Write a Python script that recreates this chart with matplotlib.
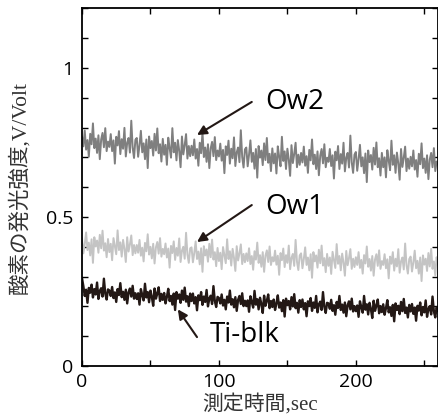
import numpy as np
import matplotlib
matplotlib.use("Agg")
import matplotlib.pyplot as plt
from matplotlib.ticker import MultipleLocator

# sampling time, sec (one point per second)
time_sec = np.arange(0, 261, 1)

# emission intensity, mV (trace by trace)
ow2_mv = [
    769, 737, 790, 726, 758, 702, 779, 744, 814, 731, 763, 715, 774, 694, 760, 782, 734, 798, 721, 753,
    735, 778, 721, 757, 679, 769, 740, 788, 711, 761, 729, 799, 703, 749, 765, 716, 823, 733, 698, 759,
    765, 702, 741, 789, 717, 747, 694, 760, 664, 770, 731, 755, 706, 779, 723, 797, 714, 744, 686, 762,
    709, 742, 675, 766, 731, 699, 798, 717, 749, 690, 758, 722, 667, 770, 710, 741, 778, 696, 738, 704,
    739, 707, 760, 696, 728, 672, 749, 714, 784, 701, 733, 685, 744, 664, 730, 752, 704, 768, 691, 723,
    703, 746, 689, 725, 647, 737, 708, 756, 679, 729, 697, 767, 671, 717, 733, 684, 791, 701, 666, 727,
    733, 670, 709, 757, 685, 715, 662, 728, 632, 738, 699, 723, 674, 747, 691, 765, 682, 712, 654, 730,
    680, 713, 646, 737, 702, 670, 769, 688, 720, 661, 729, 693, 638, 741, 681, 712, 749, 667, 709, 675,
    715, 683, 736, 672, 704, 648, 725, 690, 760, 677, 709, 661, 720, 640, 706, 728, 680, 744, 667, 699,
    685, 728, 671, 707, 629, 719, 690, 738, 661, 711, 679, 749, 653, 699, 715, 666, 773, 683, 648, 709,
    718, 655, 694, 742, 670, 700, 647, 713, 617, 723, 684, 708, 659, 732, 676, 750, 667, 697, 639, 715,
    667, 700, 633, 724, 689, 657, 756, 675, 707, 648, 716, 680, 625, 728, 668, 699, 736, 654, 696, 662,
    702, 670, 723, 659, 691, 635, 712, 677, 747, 664, 696, 648, 707, 627, 693, 715, 667, 731, 654, 686,
    676,
]
ow1_mv = [
    428, 378, 409, 448, 389, 414, 371, 425, 346, 432, 401, 421, 380, 440, 395, 454, 387, 412, 365, 426,
    382, 410, 355, 429, 401, 375, 455, 389, 415, 367, 423, 393, 349, 432, 384, 408, 438, 372, 406, 378,
    406, 380, 423, 370, 397, 351, 413, 385, 442, 374, 400, 361, 410, 344, 398, 416, 377, 429, 367, 393,
    375, 411, 364, 394, 330, 403, 379, 418, 356, 396, 370, 428, 349, 387, 400, 360, 447, 374, 346, 395,
    398, 348, 379, 418, 359, 384, 341, 395, 316, 402, 371, 391, 350, 410, 365, 424, 357, 382, 335, 396,
    352, 380, 325, 399, 371, 345, 425, 359, 385, 337, 393, 363, 319, 402, 354, 378, 408, 342, 376, 348,
    378, 352, 395, 342, 369, 323, 385, 357, 414, 346, 372, 333, 382, 316, 370, 388, 349, 401, 339, 365,
    351, 387, 340, 370, 306, 379, 355, 394, 332, 372, 346, 404, 325, 363, 376, 336, 423, 350, 322, 371,
    378, 328, 359, 398, 339, 364, 321, 375, 296, 382, 351, 371, 330, 390, 345, 404, 337, 362, 315, 376,
    336, 364, 309, 383, 355, 329, 409, 343, 369, 321, 377, 347, 303, 386, 338, 362, 392, 326, 360, 332,
    365, 339, 382, 329, 356, 310, 372, 344, 401, 333, 359, 320, 369, 303, 357, 375, 336, 388, 326, 352,
    339, 375, 328, 358, 294, 367, 343, 382, 320, 360, 334, 392, 313, 351, 364, 324, 411, 338, 310, 359,
    367, 317, 348, 387, 328, 353, 310, 364, 285, 371, 340, 360, 319, 379, 334, 393, 326, 351, 304, 365,
    341,
]
tiblk_mv = [
    295, 268, 235, 256, 212, 262, 246, 273, 230, 258, 240, 280, 225, 252, 261, 233, 293, 243, 223, 257,
    253, 235, 265, 228, 247, 215, 258, 238, 278, 231, 249, 222, 256, 210, 247, 260, 233, 269, 226, 244,
    225, 244, 206, 258, 238, 220, 276, 230, 248, 214, 253, 232, 202, 260, 226, 243, 264, 218, 242, 222,
    245, 210, 232, 259, 218, 235, 206, 243, 188, 248, 226, 240, 212, 253, 222, 263, 216, 234, 201, 243,
    218, 243, 210, 231, 187, 237, 221, 248, 205, 233, 215, 255, 200, 227, 236, 208, 268, 218, 198, 232,
    228, 210, 240, 203, 222, 190, 233, 213, 253, 206, 224, 197, 231, 185, 222, 235, 208, 244, 201, 219,
    201, 220, 182, 234, 214, 196, 252, 206, 224, 190, 229, 208, 178, 236, 202, 219, 240, 194, 218, 198,
    223, 188, 210, 237, 196, 213, 184, 221, 166, 226, 204, 218, 190, 231, 200, 241, 194, 212, 179, 221,
    198, 223, 190, 211, 167, 217, 201, 228, 185, 213, 195, 235, 180, 207, 216, 188, 248, 198, 178, 212,
    210, 192, 222, 185, 204, 172, 215, 195, 235, 188, 206, 179, 213, 167, 204, 217, 190, 226, 183, 201,
    184, 203, 165, 217, 197, 179, 235, 189, 207, 173, 212, 191, 161, 219, 185, 202, 223, 177, 201, 181,
    207, 172, 194, 221, 180, 197, 168, 205, 150, 210, 188, 202, 174, 215, 184, 225, 178, 196, 163, 205,
    183, 208, 175, 196, 152, 202, 186, 213, 170, 198, 180, 220, 165, 192, 201, 173, 233, 183, 163, 197,
    186,
]

labels = ["Ow2", "Ow1", "Ti-blk"]
colors = ["#7f7f7f", "#c4c4c4", "#231815"]
widths = [1.4, 1.4, 1.7]

fig = plt.figure(figsize=(4.38, 4.17), dpi=100)
ax = fig.add_axes([0.1872, 0.1223, 0.8128, 0.8577])

for vals, c, w in zip([ow2_mv, ow1_mv, tiblk_mv], colors, widths):
    ax.plot(time_sec, np.array(vals) / 1000.0, color=c, lw=w)

ax.set_xlim(0, 260)
ax.set_ylim(0, 1.2)
ax.xaxis.set_major_locator(MultipleLocator(100))
ax.xaxis.set_minor_locator(MultipleLocator(50))
ax.set_yticks([0, 0.5, 1])
ax.set_yticklabels(["0", "0.5", "1"])
ax.yaxis.set_minor_locator(MultipleLocator(0.1))
ax.tick_params(which="both", direction="in", top=True, right=True,
               length=4.5, width=1, labelsize=14)
ax.tick_params(axis="y", pad=6)
ax.tick_params(axis="x", pad=5)
for lab in ax.get_xticklabels() + ax.get_yticklabels():
    lab.set_family("Open Sans")
for s in ax.spines.values():
    s.set_linewidth(1.3)

# arrows and names
arr = dict(arrowstyle="-|>", color="#231815", lw=1.5, mutation_scale=14,
           shrinkA=0, shrinkB=0)
ax.annotate("", xy=(84, 0.775), xytext=(124, 0.886), arrowprops=arr)
ax.annotate("", xy=(84, 0.416), xytext=(124, 0.54), arrowprops=arr)
ax.annotate("", xy=(70, 0.19), xytext=(84, 0.097), arrowprops=arr)
ax.text(134, 0.886, labels[0], fontsize=20, family="Open Sans", va="center")
ax.text(134, 0.534, labels[1], fontsize=20, family="Open Sans", va="center")
ax.text(93, 0.104, labels[2], fontsize=20, family="Open Sans", va="center")

lab_font = ["Liberation Serif", "Noto Sans CJK JP"]
fig.text(260 / 438, 1 - 404 / 417, "測定時間,sec", fontsize=15,
         family=lab_font, ha="center", va="center", color="#333333")
fig.text(20 / 438, 1 - 187 / 417, "酸素の発光強度,V/Volt", fontsize=15.5,
         family=lab_font, ha="center", va="center", rotation=90,
         color="#333333")

fig.savefig("out.png", dpi=100)
